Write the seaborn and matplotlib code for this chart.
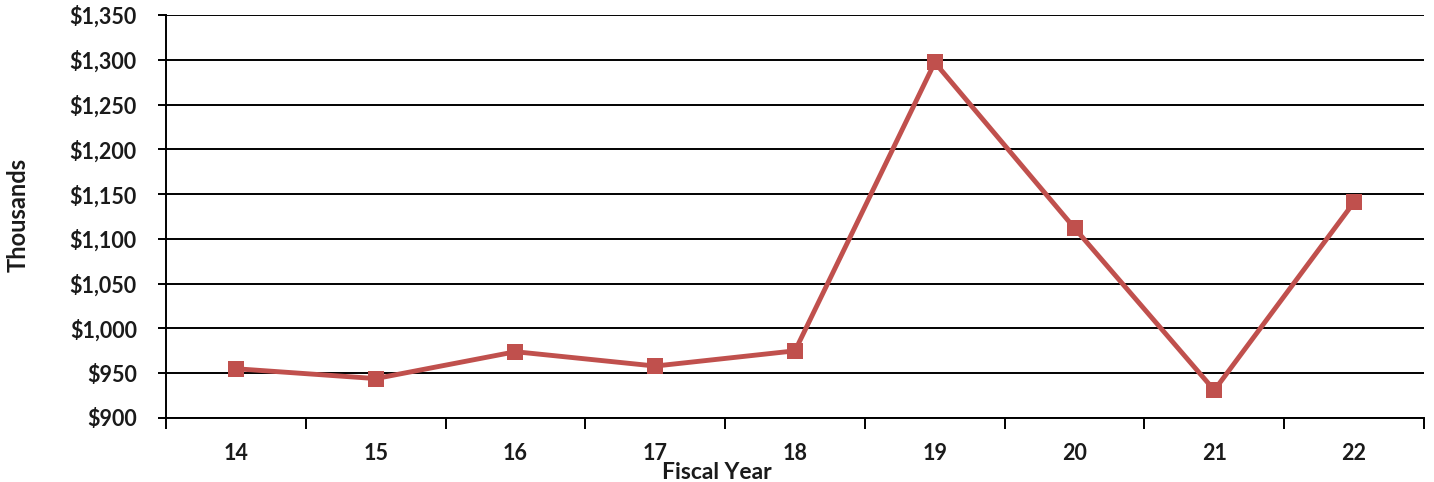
import numpy as np
import pandas as pd
import matplotlib
matplotlib.use("Agg")
import matplotlib.pyplot as plt
import seaborn as sns
from matplotlib.ticker import FixedLocator, FuncFormatter

# Fiscal year totals, in thousands of dollars
years = ["14", "15", "16", "17", "18", "19", "20", "21", "22"]
totals = [955, 944, 974, 958, 975, 1297, 1112, 931, 1141]
y_ticks = [900, 950, 1000, 1050, 1100, 1150, 1200, 1250, 1300, 1350]

sns.set_theme(style="white")
plt.rcParams["font.family"] = ["Lato", "DejaVu Sans"]
plt.rcParams["font.weight"] = "bold"

df = pd.DataFrame({"pos": np.arange(len(years)), "total": totals})

fig = plt.figure(figsize=(14.34, 4.82), dpi=100)
ax = fig.add_axes([0.1158, 0.1328, 0.993 - 0.1158, 0.9689 - 0.1328])

for v in y_ticks:
    ax.axhline(v, color="black", lw=1.4, zorder=1)

line_color = "#C0504D"
sns.lineplot(data=df, x="pos", y="total", ax=ax, color=line_color, lw=3.5,
             marker="s", markersize=11.5, markeredgewidth=0,
             markerfacecolor=line_color, zorder=3)

ax.set_xlim(-0.5, len(years) - 0.5)
ax.set_ylim(900, 1350)

ax.yaxis.set_major_locator(FixedLocator(y_ticks))
ax.yaxis.set_major_formatter(FuncFormatter(lambda v, p: f"${int(v):,}"))
ax.tick_params(axis="y", which="major", direction="out", length=6, width=1.4,
               color="black", labelsize=15.5, pad=15, left=True)

ax.set_xticks(np.arange(len(years)))
ax.set_xticklabels(years)
ax.set_xticks(np.arange(len(years) + 1) - 0.5, minor=True)
ax.tick_params(axis="x", which="major", length=0, labelsize=15.5, pad=18)
ax.tick_params(axis="x", which="minor", direction="out", length=8, width=1.4,
               color="black", bottom=True)

for lbl in ax.get_xticklabels() + ax.get_yticklabels():
    lbl.set_fontweight("bold")
    lbl.set_color("#1a1a1a")

for side in ["top", "right"]:
    ax.spines[side].set_visible(False)
for side in ["left", "bottom"]:
    ax.spines[side].set_color("black")
    ax.spines[side].set_linewidth(1.4)

ax.set_xlabel("")
ax.set_ylabel("")
fig.text(0.5, 0.019, "Fiscal Year", ha="center", va="center",
         fontsize=16.5, fontweight="bold", color="#1a1a1a")
fig.text(0.0125, 0.555, "Thousands", ha="center", va="center", rotation=90,
         fontsize=17, fontweight="bold", color="#1a1a1a")

fig.savefig("out.png", dpi=100, facecolor="white")
